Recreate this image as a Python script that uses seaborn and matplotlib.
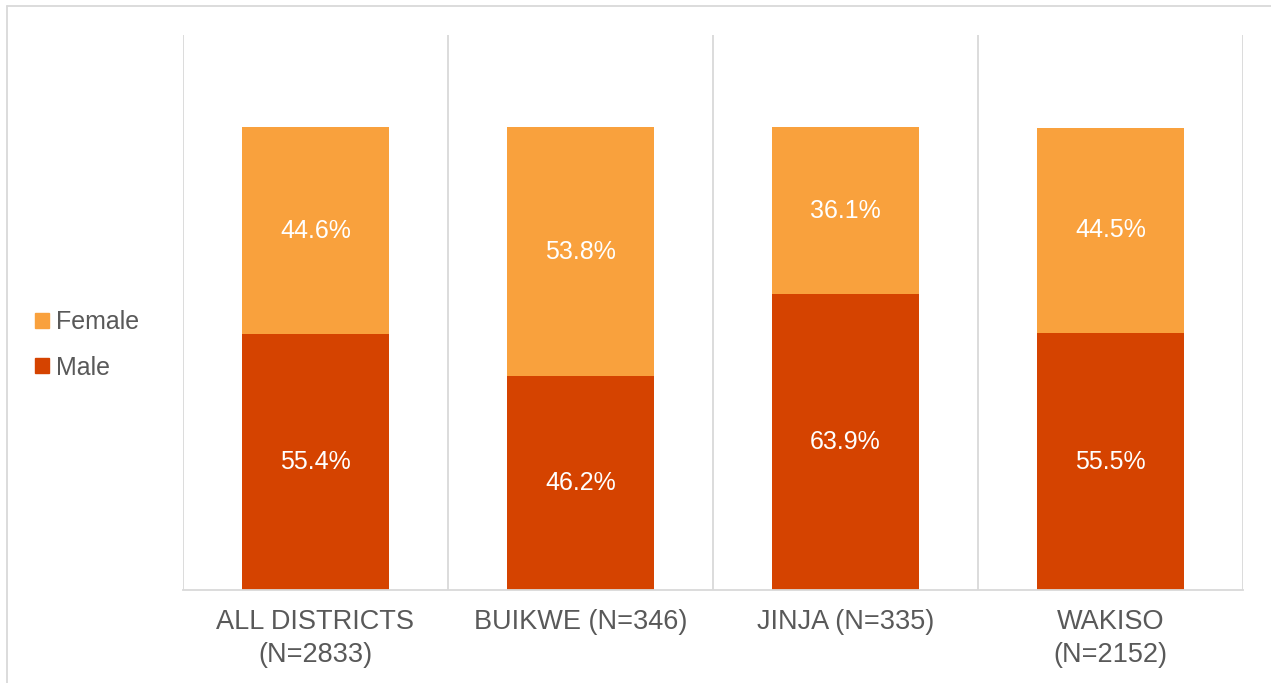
import matplotlib
matplotlib.use("Agg")
import matplotlib.pyplot as plt
import matplotlib.patches as mpatches
import seaborn as sns

# ===== 数据 =====
districts = ["ALL DISTRICTS\n(N=2833)", "BUIKWE (N=346)", "JINJA (N=335)", "WAKISO\n(N=2152)"]
male = [55.4, 46.2, 63.9, 55.5]
female = [44.6, 53.8, 36.1, 44.5]

MALE_C = "#D54300"
FEMALE_C = "#F9A13D"
TEXT_C = "#595959"
GRID_C = "#D9D9D9"

sns.set_theme(style="white")
plt.rcParams["font.family"] = ["Liberation Sans", "DejaVu Sans"]

fig = plt.figure(figsize=(12.71, 6.83), dpi=100)
ax = fig.add_axes([183 / 1271, 1 - 590 / 683, (1243 - 183) / 1271, (590 - 35) / 683])

# 堆叠柱状图：先男后女
sns.barplot(x=districts, y=male, color=MALE_C, width=0.555, saturation=1, linewidth=0, ax=ax)
sns.barplot(x=districts, y=female, bottom=male, color=FEMALE_C, width=0.555, saturation=1,
            linewidth=0, ax=ax)

ax.set_xlim(-0.5, len(districts) - 0.5)
ax.set_ylim(0, 120)
ax.set_yticks([])

# 分类分隔线
for xv in [i - 0.5 for i in range(len(districts) + 1)]:
    ax.axvline(xv, color=GRID_C, lw=1.3, zorder=0)

for s in ["top", "right", "left"]:
    ax.spines[s].set_visible(False)
ax.spines["bottom"].set_color(GRID_C)
ax.spines["bottom"].set_linewidth(1.3)

ax.tick_params(axis="x", length=0, pad=14, labelsize=19.5, labelcolor=TEXT_C)
for lab in ax.get_xticklabels():
    lab.set_linespacing(1.35)

# 数据标签
for i, (m, f) in enumerate(zip(male, female)):
    ax.text(i, m / 2, f"{m:.1f}%", ha="center", va="center", color="white", fontsize=18)
    ax.text(i, m + f / 2, f"{f:.1f}%", ha="center", va="center", color="white", fontsize=18)

# 图例
handles = [mpatches.Patch(color=FEMALE_C, label="Female"),
           mpatches.Patch(color=MALE_C, label="Male")]
fig.legend(handles=handles, loc="center left", bbox_to_anchor=(35 / 1271, 1 - 345 / 683),
           frameon=False, fontsize=18, labelcolor=TEXT_C, handlelength=0.55, handleheight=0.55,
           handletextpad=0.3, labelspacing=0.85, borderpad=0, borderaxespad=0)

# 外框
fig.add_artist(plt.Line2D([7 / 1271, 7 / 1271], [0, 1 - 6 / 683], transform=fig.transFigure, color=GRID_C, lw=1.3))
fig.add_artist(plt.Line2D([7 / 1271, 1], [1 - 6 / 683, 1 - 6 / 683], transform=fig.transFigure, color=GRID_C, lw=1.3))

fig.savefig("out.png", dpi=100)
